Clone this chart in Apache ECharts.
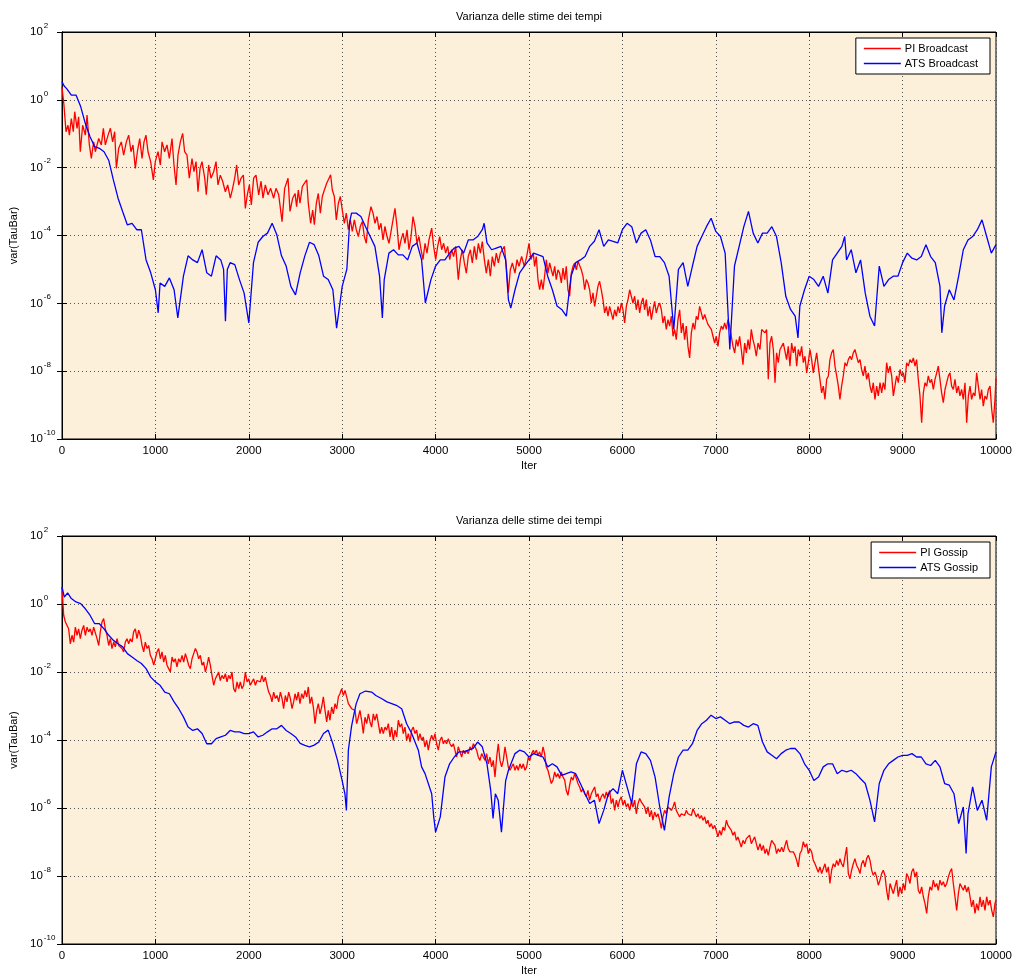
<!DOCTYPE html>
<html>
<head>
<meta charset="utf-8">
<script src="https://cdn.jsdelivr.net/npm/echarts@6/dist/echarts.min.js"></script>
<style>
html,body{margin:0;padding:0;background:#fff;}
#chart{width:1027px;height:977px;}
</style>
</head>
<body>
<div id="chart"></div>
<script>
// ---- DATA (values stored as [iteration, log10(variance)]) ----
const titleText = 'Varianza delle stime dei tempi';
const xName = 'Iter';
const yName = 'var(TauBar)';
const xTicks = [0,1000,2000,3000,4000,5000,6000,7000,8000,9000,10000];
const yTickExponents = [2,0,-2,-4,-6,-8,-10];
const legendTop = ['PI Broadcast','ATS Broadcast'];
const legendBottom = ['PI Gossip','ATS Gossip'];

const piBroadcast = [[0,0.38],[21,-0.16],[43,-0.94],[64,-0.75],[79,-1.04],[100,-0.55],[121,-0.94],[136,-0.35],[161,-0.84],[178,-0.5],[196,-1.53],[221,-0.75],[250,-1.04],[268,-0.45],[293,-1.33],[314,-1.73],[339,-1.24],[357,-1.53],[393,-1.14],[421,-1.33],[443,-0.84],[464,-1.33],[493,-1.04],[518,-0.84],[542,-1.24],[564,-0.94],[582,-2.02],[607,-1.43],[635,-1.24],[660,-1.63],[689,-1.24],[714,-1.04],[739,-1.53],[760,-1.33],[785,-2.02],[807,-1.53],[832,-1.14],[857,-1.73],[878,-1.24],[899,-1.04],[921,-1.53],[949,-1.82],[978,-2.36],[999,-1.82],[1028,-1.53],[1053,-1.92],[1071,-1.24],[1099,-1.53],[1124,-1.33],[1149,-1.73],[1178,-1.14],[1199,-1.92],[1221,-2.51],[1242,-1.63],[1267,-1.24],[1292,-0.99],[1313,-1.53],[1338,-1.63],[1363,-2.31],[1392,-1.73],[1413,-2.12],[1435,-1.82],[1456,-2.71],[1478,-2.02],[1499,-1.82],[1528,-2.31],[1545,-2.8],[1570,-1.92],[1595,-2.31],[1624,-2.12],[1649,-1.82],[1670,-2.51],[1695,-2.22],[1720,-2.4],[1749,-2.71],[1774,-2.51],[1802,-2.9],[1827,-2.61],[1849,-2.31],[1870,-1.92],[1892,-2.51],[1917,-2.31],[1942,-2.22],[1963,-3.2],[1984,-2.8],[2006,-2.51],[2027,-3.1],[2052,-2.31],[2077,-2.22],[2106,-2.8],[2131,-2.4],[2152,-2.9],[2177,-2.51],[2206,-2.8],[2234,-2.61],[2266,-2.9],[2291,-2.61],[2320,-2.8],[2356,-3.59],[2384,-2.61],[2420,-2.31],[2441,-3.29],[2470,-2.9],
[2495,-2.76],[2512,-3.15],[2530,-2.66],[2548,-3.05],[2573,-2.56],[2595,-2.46],[2620,-2.36],[2637,-3.05],[2662,-3.64],[2684,-3.25],[2702,-3.68],[2723,-3.05],[2744,-2.76],[2766,-3.34],[2787,-2.85],[2809,-2.66],[2834,-2.46],[2859,-2.31],[2876,-2.21],[2894,-2.66],[2916,-2.85],[2937,-3.54],[2959,-3.05],[2980,-2.85],[3001,-3.25],[3023,-3.64],[3044,-3.34],[3066,-3.83],[3087,-3.54],[3108,-3.88],[3130,-3.54],[3151,-3.83],[3173,-4.03],[3194,-3.73],[3216,-3.59],[3237,-4.03],[3258,-4.23],[3280,-3.54],[3308,-3.15],[3330,-3.34],[3351,-3.64],[3373,-3.44],[3394,-3.83],[3415,-3.64],[3437,-4.13],[3458,-3.73],[3480,-4.03],[3501,-4.23],[3523,-3.88],[3544,-3.54],[3565,-3.2],[3587,-3.73],[3608,-4.42],[3630,-4.13],[3651,-3.93],[3672,-4.23],[3694,-3.83],[3715,-4.42],[3737,-4.03],[3758,-3.44],[3779,-3.73],[3801,-4.23],[3822,-4.03],[3844,-4.42],[3865,-4.71],[3887,-4.23],[3908,-4.52],[3929,-4.13],[3958,-3.78],[3979,-4.32],[4001,-4.71],[4022,-4.32],[4044,-4.03],[4065,-4.42],[4086,-4.23],[4108,-4.52],[4129,-4.32],[4151,-4.71],[4172,-4.42],[4193,-4.62],[4215,-4.32],[4243,-5.3],[4265,-4.71],[4286,-4.42],[4308,-4.81],[4329,-5.11],[4350,-4.62],[4372,-4.42],[4393,-4.81],[4415,-4.32],[4436,-4.71],[4458,-4.23],[4479,-4.52],[4500,-4.18],[4522,-4.71],[4543,-5.11],[4565,-4.71],[4586,-5.2],[4607,-4.62],[4629,-4.91],[4650,-4.52],[4672,-4.81],[4693,-4.52],[4715,-4.42],[4736,-4.32],[4757,-4.91],[4779,-5.69],[4800,-5.01],[4822,-4.81],[4850,-5.11],[4872,-4.71],[4893,-4.91],[4921,-4.62],[4950,-4.91],[4975,-4.62],[5000,-4.23],[5021,-4.71],[5046,-4.52],
[5060,-4.91],[5078,-4.62],[5096,-5.3],[5114,-5.6],[5132,-5.3],[5150,-5.6],[5167,-5.2],[5185,-4.72],[5203,-5.11],[5221,-4.81],[5239,-5.01],[5257,-5.2],[5275,-4.91],[5292,-5.3],[5310,-5.01],[5328,-5.11],[5346,-5.4],[5364,-4.96],[5382,-5.3],[5399,-4.91],[5417,-5.6],[5435,-5.79],[5453,-5.11],[5471,-4.91],[5489,-4.81],[5507,-5.01],[5524,-4.76],[5542,-4.81],[5560,-5.01],[5578,-5.2],[5596,-5.6],[5614,-5.3],[5631,-5.4],[5649,-5.6],[5667,-5.99],[5685,-5.69],[5703,-6.09],[5721,-5.79],[5738,-5.5],[5756,-5.35],[5774,-5.6],[5792,-5.89],[5810,-6.28],[5828,-6.09],[5846,-6.38],[5863,-6.09],[5881,-6.28],[5899,-6.48],[5917,-6.19],[5935,-6.38],[5953,-6.09],[5970,-6.28],[5988,-5.99],[6006,-6.19],[6024,-6.58],[6042,-6.09],[6060,-5.89],[6078,-5.6],[6095,-5.79],[6113,-5.99],[6131,-5.79],[6149,-6.19],[6167,-5.89],[6185,-6.28],[6202,-5.99],[6220,-5.84],[6238,-6.19],[6256,-5.89],[6274,-6.38],[6292,-6.09],[6310,-6.48],[6327,-6.19],[6345,-5.94],[6363,-6.28],[6381,-6.09],[6399,-5.99],[6417,-6.19],[6434,-6.58],[6452,-6.38],[6470,-6.77],[6488,-6.48],[6506,-6.67],[6524,-6.38],[6542,-6.97],[6559,-6.77],[6577,-7.07],[6595,-6.48],[6613,-6.19],[6631,-6.87],[6649,-6.58],[6666,-7.07],[6684,-6.67],[6702,-7.27],[6720,-7.61],[6738,-6.87],[6756,-6.58],[6774,-6.77],[6791,-6.38],[6809,-6.48],[6827,-6.09],[6845,-6.28],[6863,-6.48],[6881,-6.33],[6898,-6.48],[6916,-6.62],[6934,-6.58],[6952,-6.77],[6970,-6.97],[6988,-7.17],[7005,-6.97],[7023,-7.27],[7041,-6.87],[7059,-6.67],[7077,-6.77],[7095,-6.58],[7113,-6.77],[7130,-6.48],[7148,-6.67],[7166,-6.97],[7184,-7.27],[7202,-7.46],[7220,-7.07],[7237,-7.27],[7255,-6.97],[7273,-7.36],[7291,-7.81],[7309,-7.17],[7327,-7.46],[7345,-7.07],[7362,-7.36],[7380,-6.77],[7398,-7.07],[7416,-7.27],[7434,-7.56],[7452,-7.17],
[7473,-7.36],[7491,-6.77],[7509,-6.72],[7527,-6.87],[7544,-6.77],[7562,-8.24],[7580,-7.17],[7598,-6.97],[7616,-7.36],[7634,-8.34],[7651,-7.46],[7669,-7.75],[7687,-7.36],[7705,-7.27],[7723,-7.17],[7741,-7.12],[7758,-7.66],[7776,-7.27],[7794,-7.85],[7812,-7.17],[7830,-7.46],[7848,-7.27],[7866,-7.85],[7883,-7.36],[7901,-7.56],[7919,-7.27],[7937,-7.75],[7955,-7.56],[7973,-8.05],[7990,-7.75],[8008,-7.36],[8026,-7.66],[8044,-8.05],[8062,-7.75],[8080,-7.46],[8097,-7.85],[8115,-8.24],[8133,-8.64],[8151,-8.44],[8169,-8.83],[8187,-8.24],[8205,-8.14],[8222,-7.66],[8240,-7.46],[8258,-7.36],[8276,-7.85],[8294,-8.14],[8312,-8.44],[8329,-8.83],[8347,-8.44],[8365,-8.14],[8383,-7.75],[8401,-7.85],[8419,-7.66],[8437,-7.56],[8454,-7.66],[8472,-7.46],[8490,-7.36],[8508,-7.56],[8526,-7.75],[8544,-7.66],[8561,-7.95],[8579,-8.14],[8597,-7.85],[8615,-8.24],[8633,-8.05],[8651,-8.44],[8669,-8.64],[8686,-8.34],[8704,-8.83],[8722,-8.44],[8740,-8.73],[8758,-8.34],[8776,-8.64],[8793,-8.34],[8811,-8.54],[8829,-7.75],[8847,-8.05],[8865,-7.85],[8883,-8.14],[8901,-8.73],[8918,-8.44],[8936,-8.14],[8954,-8.34],[8972,-7.95],[8990,-8.14],[9008,-8.05],[9025,-8.34],[9043,-7.75],[9061,-7.85],[9079,-7.66],[9097,-7.75],[9115,-7.61],[9133,-7.85],[9150,-7.66],[9168,-8.24],[9186,-8.73],[9204,-9.52],[9222,-8.64],[9240,-8.34],[9258,-8.44],[9275,-8.14],[9293,-8.34],[9311,-8.24],[9329,-8.54],[9347,-8.24],[9365,-8.05],[9382,-7.85],[9400,-8.24],[9418,-8.64],[9436,-8.93],[9454,-8.54],[9472,-8.34],[9490,-8.14],[9507,-8.05],[9525,-8.44],[9543,-8.54],[9561,-8.24],[9579,-8.64],[9597,-8.44],[9614,-8.73],[9632,-8.54],[9650,-8.83],[9668,-8.34],[9686,-9.52],[9704,-8.73],[9722,-8.44],[9739,-8.83],[9757,-8.64],[9775,-8.73],[9793,-8.05],[9811,-8.44],[9829,-8.83],[9846,-8.54],[9864,-9.03],[9882,-8.73],[9900,-8.83],[9918,-8.54],[9936,-8.44],[9954,-9.13],[9971,-9.52],[9989,-8.83],[10000,-8.2]];

const atsBroadcast = [[0,0.53],[25,0.4],[50,0.33],[100,0.14],[150,0.14],[200,-0.2],[250,-0.7],[300,-1.09],[350,-1.38],[400,-1.43],[450,-1.53],[500,-1.78],[550,-2.36],[600,-2.9],[650,-3.3],[700,-3.69],[750,-3.64],[800,-3.83],[850,-3.83],[900,-4.72],[950,-5.1],[1000,-5.6],[1030,-6.28],[1050,-5.4],[1100,-5.5],[1150,-5.25],[1200,-5.6],[1240,-6.43],[1300,-5.2],[1350,-4.6],[1400,-4.72],[1450,-4.8],[1500,-4.42],[1550,-5.1],[1600,-5.2],[1650,-4.6],[1700,-4.72],[1730,-5.0],[1750,-6.53],[1770,-5.0],[1800,-4.8],[1850,-4.86],[1900,-5.3],[1950,-5.7],[2000,-6.58],[2050,-4.8],[2100,-4.2],[2150,-4.03],[2200,-3.93],[2250,-3.64],[2300,-3.98],[2350,-4.6],[2400,-4.9],[2450,-5.5],[2500,-5.75],[2550,-5.1],[2600,-4.6],[2650,-4.2],[2700,-4.27],[2750,-4.6],[2800,-5.2],[2850,-5.3],[2900,-5.6],[2940,-6.73],[3000,-5.5],[3050,-4.99],[3080,-3.6],[3100,-3.34],[3150,-3.34],[3200,-3.44],[3250,-3.74],[3300,-4.03],[3350,-4.32],[3400,-5.2],[3430,-6.43],[3450,-5.3],[3500,-4.52],[3550,-4.42],[3600,-4.57],[3650,-4.57],[3700,-4.72],[3750,-4.32],[3800,-4.22],[3850,-4.72],[3890,-5.99],[3950,-5.3],[4000,-4.9],[4050,-4.72],[4100,-4.72],[4150,-4.52],[4200,-4.37],[4250,-4.32],[4300,-4.52],[4350,-4.13],[4400,-4.13],[4450,-4.03],[4500,-3.83],[4520,-3.64],[4550,-4.22],[4600,-4.42],[4650,-4.37],[4700,-4.32],[4750,-4.72],[4780,-5.9],[4805,-6.14],[4850,-5.6],[4900,-5.1],[4950,-4.9],[5000,-4.72],[5050,-4.52],[5100,-4.57],[5150,-4.62],[5200,-5.2],[5250,-5.6],[5300,-6.08],[5350,-6.18],[5400,-6.38],[5450,-5.2],[5500,-4.8],[5550,-4.72],[5600,-4.62],[5650,-4.32],[5700,-4.17],[5750,-3.83],[5800,-4.32],[5850,-4.13],[5900,-4.17],[5950,-4.22],[6000,-3.83],[6050,-3.64],[6100,-3.74],[6150,-4.22],[6200,-3.93],[6250,-3.83],[6300,-4.13],[6350,-4.62],[6400,-4.62],[6450,-4.8],[6500,-5.2],[6550,-6.77],[6600,-5.0],[6650,-4.8],[6700,-5.5],[6750,-4.9],[6800,-4.32],[6850,-4.03],[6900,-3.74],[6950,-3.49],[7000,-3.88],[7050,-4.03],[7100,-4.52],[7150,-7.36],[7200,-4.9],[7250,-4.32],[7300,-3.74],[7350,-3.29],[7400,-3.93],[7450,-4.22],[7500,-3.93],[7550,-3.93],[7600,-3.74],[7650,-4.03],[7700,-4.8],[7750,-5.8],[7800,-6.18],[7850,-6.38],[7880,-7.02],[7900,-6.08],[7950,-5.6],[8000,-5.2],[8050,-5.3],[8100,-5.5],[8150,-5.2],[8200,-5.7],[8250,-4.72],[8300,-4.52],[8350,-4.32],[8380,-4.03],[8400,-4.72],[8450,-4.42],[8500,-5.1],[8550,-4.72],[8600,-5.7],[8650,-6.38],[8700,-6.67],[8750,-4.9],[8800,-5.5],[8850,-5.3],[8900,-5.2],[8950,-5.2],[9000,-4.8],[9050,-4.52],[9100,-4.67],[9150,-4.72],[9200,-4.62],[9250,-4.27],[9300,-4.62],[9350,-4.8],[9400,-5.5],[9420,-6.87],[9450,-6.08],[9500,-5.6],[9550,-5.9],[9600,-5.2],[9650,-4.42],[9700,-4.13],[9750,-4.03],[9800,-3.83],[9850,-3.54],[9900,-4.03],[9950,-4.52],[10000,-4.27]];

const piGossip = [[0,0.5],[18,-0.33],[36,-0.53],[54,-0.63],[71,-0.73],[89,-1.17],[107,-0.92],[125,-1.12],[143,-0.68],[161,-0.92],[178,-0.73],[196,-1.02],[214,-0.77],[232,-0.63],[250,-0.92],[268,-0.68],[286,-0.82],[303,-0.73],[321,-0.92],[339,-0.68],[357,-0.73],[375,-1.02],[393,-1.22],[410,-0.82],[428,-0.53],[446,-0.43],[464,-0.73],[482,-0.92],[500,-1.22],[518,-1.02],[535,-1.31],[553,-1.12],[571,-1.26],[589,-1.02],[607,-1.22],[625,-1.17],[642,-1.31],[660,-1.41],[678,-1.12],[696,-1.02],[714,-1.17],[732,-1.02],[750,-1.12],[767,-0.82],[785,-0.73],[803,-1.02],[821,-0.77],[839,-0.92],[857,-1.22],[875,-1.41],[892,-1.12],[910,-1.31],[928,-1.22],[946,-1.51],[964,-1.61],[982,-1.8],[999,-1.61],[1017,-1.41],[1035,-1.31],[1053,-1.61],[1071,-1.41],[1089,-1.71],[1106,-1.51],[1124,-1.8],[1142,-1.9],[1160,-2.0],[1178,-1.56],[1196,-1.71],[1213,-1.61],[1231,-1.85],[1249,-1.61],[1267,-1.71],[1285,-1.51],[1303,-1.71],[1321,-1.46],[1338,-1.61],[1356,-1.8],[1374,-1.9],[1392,-1.61],[1410,-1.46],[1428,-1.31],[1445,-1.41],[1463,-1.61],[1481,-1.51],[1499,-1.8],[1517,-1.71],[1535,-2.0],[1553,-1.8],[1570,-1.56],[1588,-1.8],[1606,-2.1],[1624,-2.39],[1642,-2.2],[1660,-2.1],[1677,-2.0],[1695,-2.25],[1713,-2.1],[1731,-2.2],[1749,-2.05],[1767,-2.29],[1784,-2.1],[1802,-2.2],[1820,-2.0],[1838,-2.49],[1856,-2.59],[1874,-2.29],[1892,-2.49],[1909,-2.29],[1927,-2.49],[1945,-2.39],[1963,-2.0],[1981,-2.29],[1999,-2.2],[2016,-2.39],[2034,-2.29],[2052,-2.2],[2070,-2.39],[2088,-2.25],[2106,-2.2],[2124,-2.29],[2141,-2.1],[2159,-2.29],[2177,-2.15],[2195,-2.39],[2213,-2.59],[2231,-2.69],[2248,-2.88],[2266,-2.59],[2284,-2.78],[2302,-2.69],[2320,-2.88],[2338,-2.59],[2356,-2.78],[2373,-3.08],[2391,-2.69],[2409,-2.88],[2427,-2.59],[2445,-2.78],[2463,-3.08],[2480,-2.88],
[2495,-2.64],[2512,-2.83],[2530,-2.59],[2548,-2.93],[2566,-2.64],[2584,-2.78],[2602,-2.54],[2620,-2.73],[2637,-2.44],[2655,-2.93],[2673,-2.73],[2691,-3.03],[2709,-3.52],[2727,-3.13],[2744,-2.93],[2762,-3.23],[2780,-3.03],[2798,-2.73],[2816,-3.13],[2834,-3.47],[2851,-3.13],[2869,-3.42],[2887,-3.03],[2905,-3.23],[2923,-2.93],[2941,-3.08],[2959,-2.73],[2976,-2.64],[2994,-2.49],[3012,-2.69],[3030,-2.54],[3048,-2.73],[3066,-2.93],[3083,-2.88],[3101,-3.08],[3119,-3.03],[3137,-3.13],[3155,-3.52],[3173,-3.33],[3190,-3.13],[3208,-3.42],[3226,-3.81],[3244,-3.33],[3262,-3.52],[3280,-3.23],[3298,-3.47],[3315,-3.62],[3333,-3.23],[3351,-3.42],[3369,-3.23],[3387,-3.52],[3405,-3.81],[3422,-3.62],[3440,-3.81],[3458,-3.62],[3476,-3.71],[3494,-3.52],[3512,-3.91],[3529,-3.62],[3547,-4.01],[3565,-3.71],[3583,-3.91],[3601,-3.42],[3619,-3.62],[3637,-3.52],[3654,-3.81],[3672,-3.62],[3690,-4.01],[3708,-3.81],[3726,-4.06],[3744,-3.71],[3761,-3.62],[3779,-3.81],[3797,-3.71],[3815,-4.01],[3833,-3.81],[3851,-4.01],[3868,-3.91],[3886,-4.2],[3904,-4.01],[3922,-4.3],[3940,-4.01],[3958,-3.86],[3976,-4.01],[3993,-3.81],[4011,-4.11],[4029,-4.3],[4047,-4.01],[4065,-3.91],[4083,-4.11],[4100,-4.01],[4118,-4.11],[4136,-3.96],[4154,-4.11],[4172,-4.2],[4190,-4.11],[4207,-4.3],[4225,-4.5],[4243,-4.2],[4261,-4.35],[4279,-4.5],[4297,-4.3],[4315,-4.4],[4332,-4.3],[4350,-4.4],[4368,-4.2],[4386,-4.3],[4404,-4.11],[4422,-4.2],[4439,-4.3],[4457,-4.5],[4475,-4.6],[4493,-4.4],[4511,-4.5],[4529,-4.6],[4546,-4.4],[4564,-4.7],[4582,-4.5],[4600,-4.79],[4618,-4.6],[4636,-5.09],[4654,-4.5],[4671,-4.11],[4689,-4.6],[4707,-4.79],[4725,-4.6],[4743,-4.2],[4761,-4.5],[4778,-4.79],[4796,-4.89],[4814,-4.79],[4832,-4.7],[4850,-4.89],[4868,-4.75],[4885,-4.89],[4903,-4.7],[4921,-4.84],[4939,-4.7],[4957,-4.89],[4975,-4.79],[4993,-4.5],[5010,-4.6],[5028,-4.4],[5046,-4.3],
[5060,-4.4],[5078,-4.3],[5096,-4.45],[5114,-4.35],[5132,-4.5],[5150,-4.2],[5167,-4.4],[5185,-4.79],[5203,-4.89],[5221,-5.09],[5239,-5.28],[5257,-5.18],[5275,-4.94],[5292,-5.09],[5310,-4.99],[5328,-5.13],[5346,-4.94],[5364,-5.09],[5382,-5.18],[5399,-5.48],[5417,-5.63],[5435,-5.33],[5453,-5.09],[5471,-5.18],[5489,-4.99],[5507,-5.13],[5524,-5.28],[5542,-5.38],[5560,-5.53],[5578,-5.43],[5596,-5.58],[5614,-5.67],[5631,-5.48],[5649,-5.77],[5667,-5.58],[5685,-5.48],[5703,-5.38],[5721,-5.67],[5738,-5.58],[5756,-5.82],[5774,-5.67],[5792,-5.58],[5810,-5.72],[5828,-5.53],[5846,-5.67],[5863,-5.48],[5881,-5.87],[5899,-5.72],[5917,-6.07],[5935,-5.77],[5953,-5.97],[5970,-5.77],[5988,-5.67],[6006,-5.92],[6024,-5.77],[6042,-5.97],[6060,-5.87],[6078,-6.07],[6095,-5.82],[6113,-5.97],[6131,-5.77],[6149,-6.17],[6167,-5.87],[6185,-5.72],[6202,-5.82],[6220,-5.77],[6238,-5.97],[6256,-6.17],[6274,-5.97],[6292,-6.26],[6310,-6.07],[6327,-6.36],[6345,-6.12],[6363,-6.26],[6381,-6.17],[6399,-6.36],[6417,-6.6],[6434,-6.26],[6452,-6.07],[6470,-6.17],[6488,-5.97],[6506,-5.92],[6524,-6.07],[6542,-5.97],[6559,-5.82],[6577,-6.07],[6595,-6.17],[6613,-6.26],[6631,-6.17],[6649,-6.12],[6666,-6.22],[6684,-6.07],[6702,-6.17],[6720,-6.12],[6738,-6.22],[6756,-6.02],[6774,-6.07],[6791,-6.26],[6809,-6.17],[6827,-6.31],[6845,-6.22],[6863,-6.36],[6881,-6.26],[6898,-6.46],[6916,-6.36],[6934,-6.56],[6952,-6.46],[6970,-6.61],[6988,-6.51],[7005,-6.66],[7023,-6.85],[7041,-6.66],[7059,-6.8],[7077,-6.56],[7095,-6.66],[7113,-6.36],[7130,-6.51],[7148,-6.46],[7166,-6.66],[7184,-6.8],[7202,-6.7],[7220,-6.95],[7237,-6.85],[7255,-7.0],[7273,-7.15],[7291,-6.95],[7309,-7.05],[7327,-6.9],[7345,-6.95],[7362,-6.8],[7380,-7.05],[7398,-6.95],[7416,-6.85],[7434,-7.05],[7452,-7.24],
[7473,-7.05],[7491,-7.25],[7509,-7.1],[7527,-7.34],[7544,-7.2],[7562,-7.39],[7580,-7.15],[7598,-6.95],[7616,-6.9],[7634,-7.1],[7651,-7.34],[7669,-7.2],[7687,-7.29],[7705,-7.15],[7723,-7.29],[7741,-7.1],[7758,-6.95],[7776,-7.2],[7794,-7.29],[7812,-7.34],[7830,-7.29],[7848,-7.39],[7866,-7.54],[7883,-7.73],[7901,-7.34],[7919,-7.25],[7937,-6.99],[7955,-7.15],[7973,-7.05],[7990,-7.34],[8008,-7.2],[8026,-7.29],[8044,-7.54],[8062,-7.64],[8080,-7.59],[8097,-7.89],[8115,-7.73],[8133,-7.93],[8151,-7.78],[8169,-7.64],[8187,-7.89],[8205,-7.73],[8222,-8.22],[8240,-7.83],[8258,-7.64],[8276,-7.73],[8294,-7.54],[8312,-7.69],[8329,-7.49],[8347,-7.64],[8365,-7.73],[8383,-7.44],[8401,-7.15],[8419,-7.93],[8437,-8.08],[8454,-7.83],[8472,-7.64],[8490,-7.49],[8508,-7.69],[8526,-7.78],[8544,-7.93],[8561,-7.64],[8579,-7.54],[8597,-7.73],[8615,-7.49],[8633,-7.39],[8651,-7.54],[8669,-7.83],[8686,-7.98],[8704,-7.88],[8722,-8.03],[8740,-8.27],[8758,-8.12],[8776,-7.93],[8793,-7.83],[8811,-7.98],[8829,-8.42],[8847,-8.71],[8865,-8.22],[8883,-8.17],[8901,-8.52],[8918,-8.32],[8936,-8.12],[8954,-8.61],[8972,-8.32],[8990,-8.52],[9008,-8.22],[9025,-8.42],[9043,-7.93],[9061,-8.03],[9079,-8.22],[9097,-7.88],[9115,-7.78],[9133,-8.03],[9150,-7.88],[9168,-8.42],[9186,-8.52],[9204,-8.32],[9222,-8.61],[9240,-8.81],[9258,-9.1],[9275,-8.61],[9293,-8.32],[9311,-8.42],[9329,-8.12],[9347,-8.32],[9365,-8.22],[9382,-8.42],[9400,-8.12],[9418,-8.27],[9436,-8.17],[9454,-8.32],[9472,-8.22],[9490,-8.03],[9507,-7.88],[9525,-7.78],[9543,-8.22],[9561,-8.61],[9579,-9.01],[9597,-8.52],[9614,-8.22],[9632,-8.17],[9650,-8.42],[9668,-8.27],[9686,-8.47],[9704,-8.32],[9722,-8.61],[9739,-8.91],[9757,-8.71],[9775,-9.1],[9793,-8.81],[9811,-9.01],[9829,-8.61],[9846,-8.91],[9864,-8.71],[9882,-9.01],[9900,-8.61],[9918,-8.86],[9936,-8.71],[9954,-9.01],[9971,-9.2],[9989,-8.81],[10000,-8.71]];

const atsGossip = [[0,0.5],[25,0.2],[60,0.33],[100,0.16],[150,0.06],[200,0.01],[250,-0.14],[300,-0.33],[350,-0.58],[400,-0.58],[450,-0.73],[500,-0.92],[550,-1.07],[600,-1.17],[650,-1.26],[700,-1.46],[750,-1.56],[800,-1.66],[850,-1.75],[900,-1.9],[950,-2.15],[1000,-2.29],[1050,-2.39],[1100,-2.59],[1150,-2.64],[1200,-2.88],[1250,-3.08],[1300,-3.32],[1350,-3.62],[1400,-3.72],[1450,-3.67],[1500,-3.81],[1550,-4.11],[1600,-4.11],[1650,-3.96],[1700,-3.91],[1750,-3.86],[1800,-3.72],[1850,-3.76],[1900,-3.76],[1950,-3.81],[2000,-3.81],[2050,-3.76],[2100,-3.91],[2150,-3.86],[2200,-3.76],[2250,-3.67],[2300,-3.67],[2350,-3.57],[2400,-3.72],[2450,-3.81],[2500,-3.91],[2550,-4.1],[2600,-4.16],[2650,-4.2],[2700,-4.15],[2750,-4.06],[2800,-3.81],[2850,-3.71],[2900,-4.11],[2950,-4.6],[3000,-5.2],[3030,-5.6],[3045,-6.07],[3066,-4.3],[3100,-3.6],[3120,-3.32],[3150,-2.93],[3190,-2.64],[3250,-2.56],[3315,-2.59],[3360,-2.69],[3420,-2.78],[3480,-2.88],[3530,-2.93],[3580,-2.98],[3637,-3.08],[3690,-3.52],[3744,-3.81],[3815,-4.3],[3850,-4.79],[3887,-4.99],[3958,-5.58],[3980,-6.26],[4000,-6.71],[4050,-6.26],[4100,-5.09],[4150,-4.7],[4200,-4.5],[4250,-4.35],[4300,-4.35],[4350,-4.3],[4400,-4.25],[4450,-4.06],[4500,-4.2],[4550,-4.7],[4590,-5.48],[4615,-6.31],[4640,-5.58],[4670,-5.77],[4705,-6.71],[4750,-5.2],[4780,-4.89],[4850,-4.4],[4900,-4.3],[4950,-4.35],[5000,-4.5],[5050,-4.4],[5100,-4.45],[5150,-4.5],[5200,-4.79],[5250,-4.7],[5300,-4.79],[5350,-5.04],[5400,-4.99],[5450,-4.94],[5500,-4.99],[5550,-5.28],[5600,-5.58],[5650,-5.87],[5700,-5.77],[5750,-6.46],[5800,-6.07],[5850,-5.58],[5900,-5.43],[5950,-5.58],[6000,-4.89],[6050,-5.38],[6100,-5.87],[6150,-4.7],[6200,-4.35],[6250,-4.4],[6300,-4.6],[6350,-5.09],[6400,-5.97],[6450,-6.66],[6500,-5.68],[6550,-4.99],[6600,-4.5],[6650,-4.3],[6700,-4.3],[6750,-4.11],[6800,-3.72],[6850,-3.52],[6900,-3.42],[6950,-3.27],[7000,-3.37],[7050,-3.32],[7100,-3.42],[7150,-3.52],[7200,-3.47],[7250,-3.47],[7300,-3.57],[7350,-3.62],[7400,-3.52],[7450,-3.57],[7500,-4.06],[7550,-4.35],[7600,-4.45],[7650,-4.55],[7700,-4.4],[7750,-4.3],[7800,-4.25],[7850,-4.25],[7900,-4.4],[7950,-4.7],[8000,-4.89],[8050,-5.19],[8100,-5.09],[8150,-4.79],[8200,-4.7],[8250,-4.7],[8300,-4.99],[8350,-4.89],[8400,-4.94],[8450,-4.89],[8500,-4.99],[8550,-5.14],[8600,-5.28],[8650,-5.77],[8700,-6.41],[8750,-5.28],[8800,-4.89],[8850,-4.7],[8900,-4.6],[8950,-4.5],[9000,-4.45],[9050,-4.45],[9100,-4.4],[9150,-4.5],[9200,-4.5],[9250,-4.7],[9300,-4.75],[9350,-4.6],[9400,-4.79],[9450,-5.28],[9500,-5.33],[9550,-5.58],[9600,-6.46],[9650,-5.97],[9680,-7.34],[9700,-6.17],[9750,-5.38],[9800,-6.07],[9850,-5.77],[9900,-6.36],[9950,-4.79],[10000,-4.35]];

// ---- CHART ----
const FONT = '"Liberation Sans", Arial, Helvetica, sans-serif';
const BG = '#FDF0DB';
const toVal = arr => arr.map(p => [p[0], Math.pow(10, p[1])]);

const grids = [
  {left: 62, top: 32, width: 934, height: 407},
  {left: 62, top: 536, width: 934, height: 408}
];

function xAxes(gi) {
  return [
    {
      gridIndex: gi, type: 'value', position: 'bottom',
      min: xTicks[0], max: xTicks[xTicks.length - 1], interval: xTicks[1] - xTicks[0],
      name: xName, nameLocation: 'middle', nameGap: 21,
      nameTextStyle: {fontFamily: FONT, fontSize: 11, color: '#000'},
      axisLine: {show: true, lineStyle: {color: '#000', width: 1}},
      axisTick: {show: true, inside: true, length: 5, lineStyle: {color: '#000'}},
      axisLabel: {show: true, margin: 6, fontFamily: FONT, fontSize: 11.5, color: '#000',
                  formatter: v => String(v)},
      splitLine: {show: true, lineStyle: {color: '#555', type: [1, 3], width: 1}}
    },
    {
      gridIndex: gi, type: 'value', position: 'top',
      min: xTicks[0], max: xTicks[xTicks.length - 1], interval: xTicks[1] - xTicks[0],
      axisLine: {show: true, lineStyle: {color: '#000', width: 1}},
      axisTick: {show: true, inside: true, length: 5, lineStyle: {color: '#000'}},
      axisLabel: {show: false}, splitLine: {show: false}
    }
  ];
}
function yAxes(gi) {
  const yMin = Math.pow(10, yTickExponents[yTickExponents.length - 1]);
  const yMax = Math.pow(10, yTickExponents[0]);
  return [
    {
      gridIndex: gi, type: 'log', logBase: 10, position: 'left',
      min: yMin, max: yMax, interval: 2,
      name: yName, nameLocation: 'middle', nameGap: 38, nameRotate: 90,
      nameTextStyle: {fontFamily: FONT, fontSize: 11, color: '#000'},
      axisLine: {show: true, lineStyle: {color: '#000', width: 1}},
      axisTick: {show: true, inside: true, length: 5, lineStyle: {color: '#000'}},
      minorTick: {show: false},
      axisLabel: {
        show: true, margin: 32, align: 'left',
        formatter: v => '{b|10}{s|' + Math.round(Math.log10(v)) + '}',
        rich: {
          b: {fontFamily: FONT, fontSize: 11.5, color: '#000', lineHeight: 21},
          s: {fontFamily: FONT, fontSize: 8, color: '#000', lineHeight: 8, verticalAlign: 'top', padding: [0, 0, 0, 1]}
        }
      },
      splitLine: {show: true, lineStyle: {color: '#555', type: [1, 3], width: 1}}
    },
    {
      gridIndex: gi, type: 'log', logBase: 10, position: 'right',
      min: yMin, max: yMax, interval: 2,
      axisLine: {show: true, lineStyle: {color: '#000', width: 1}},
      axisTick: {show: true, inside: true, length: 5, lineStyle: {color: '#000'}},
      axisLabel: {show: false}, splitLine: {show: false}
    }
  ];
}

function lineSeries(name, data, color, xi, yi) {
  return {
    name: name, type: 'line', xAxisIndex: xi, yAxisIndex: yi,
    data: toVal(data), showSymbol: false, symbol: 'none',
    lineStyle: {color: color, width: 1.3}, itemStyle: {color: color},
    animation: false, silent: true
  };
}

function legendCfg(names, top) {
  return {
    data: names, orient: 'vertical', right: 37, top: top,
    backgroundColor: '#fff', borderColor: '#000', borderWidth: 1, borderRadius: 0,
    padding: [4, 12, 4, 8], itemGap: 2, itemWidth: 37, itemHeight: 1.5,
    icon: 'rect', selectedMode: false,
    textStyle: {fontFamily: FONT, fontSize: 11, color: '#000', lineHeight: 13, padding: [0, 0, 0, -1]}
  };
}

const chart = echarts.init(document.getElementById('chart'), null, {renderer: 'canvas'});
chart.setOption({
  animation: false,
  backgroundColor: '#fff',
  title: [
    {text: titleText, left: 529, top: 11, textAlign: 'center', padding: 0,
     textStyle: {fontFamily: FONT, fontSize: 11, fontWeight: 'normal', color: '#000'}},
    {text: titleText, left: 529, top: 515, textAlign: 'center', padding: 0,
     textStyle: {fontFamily: FONT, fontSize: 11, fontWeight: 'normal', color: '#000'}}
  ],
  legend: [legendCfg(legendTop, 38), legendCfg(legendBottom, 542)],
  grid: grids.map(g => Object.assign({show: true, backgroundColor: BG, borderColor: '#000', borderWidth: 1, containLabel: false}, g)),
  xAxis: xAxes(0).concat(xAxes(1)),
  yAxis: yAxes(0).concat(yAxes(1)),
  series: [
    lineSeries(legendTop[0], piBroadcast, '#FF0000', 0, 0),
    lineSeries(legendTop[1], atsBroadcast, '#0000FF', 0, 0),
    lineSeries(legendBottom[0], piGossip, '#FF0000', 2, 2),
    lineSeries(legendBottom[1], atsGossip, '#0000FF', 2, 2)
  ]
});
</script>
</body>
</html>
